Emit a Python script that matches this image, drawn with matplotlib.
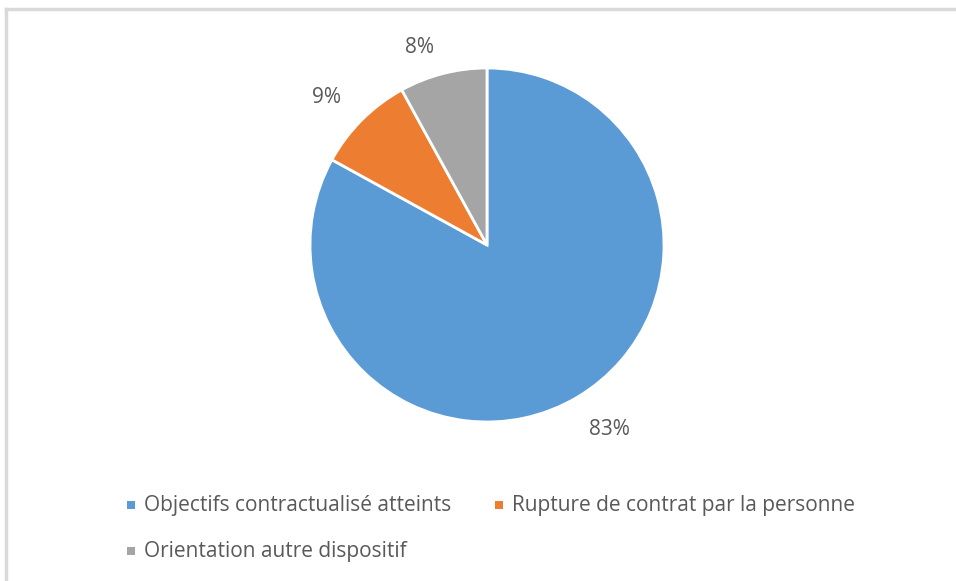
import matplotlib
matplotlib.use("Agg")
import matplotlib.pyplot as plt
from matplotlib.patches import Rectangle
from matplotlib.lines import Line2D

categories = ["Objectifs contractualisé atteints",
              "Rupture de contrat par la personne",
              "Orientation autre dispositif"]
values = [83, 9, 8]
colors = ["#5B9BD5", "#ED7D31", "#A5A5A5"]

W, H = 956, 581
fig = plt.figure(figsize=(W / 100, H / 100), dpi=100)
fig.patch.set_facecolor("white")
plt.rcParams['font.family'] = ['Open Sans', 'DejaVu Sans']
text_color = "#595959"

# light frame (top and left edges)
fig.add_artist(Line2D([6 / W, 1], [1 - 9 / H, 1 - 9 / H], transform=fig.transFigure,
                      color="#d9d9d9", lw=2.5))
fig.add_artist(Line2D([6 / W, 6 / W], [0, 1 - 9 / H], transform=fig.transFigure,
                      color="#d9d9d9", lw=2.5))

cx, cy, r = 487, 245, 177
ax = fig.add_axes([(cx - r) / W, (H - cy - r) / H, 2 * r / W, 2 * r / H])
wedges, texts, autotexts = ax.pie(
    values, colors=colors, startangle=90, counterclock=False,
    autopct=lambda p: f"{p:.0f}%", pctdistance=1.23,
    wedgeprops=dict(edgecolor="white", linewidth=2),
    textprops=dict(color=text_color, fontsize=15))
# Excel-style "outside end" label placement
label_xy = [(0.689, -1.045), (-0.904, 0.831), (-0.379, 1.113)]
for t, xy in zip(autotexts, label_xy):
    t.set_position(xy)
ax.set_aspect("equal")
ax.set_xlim(-1, 1)
ax.set_ylim(-1, 1)
ax.axis("off")

# legend (manual, Excel-like layout)
legend_pos = [(127, 505), (495, 505), (127, 551)]
for (x, y), lab, col in zip(legend_pos, categories, colors):
    s = 8
    fig.add_artist(Rectangle(((x) / W, (H - y - s / 2) / H), s / W, s / H,
                             transform=fig.transFigure, facecolor=col, edgecolor="none"))
    fig.text((x + s + 9) / W, (H - y) / H, lab, color=text_color, fontsize=15,
             va="center", ha="left")

fig.savefig("out.png", dpi=100, facecolor="white")
